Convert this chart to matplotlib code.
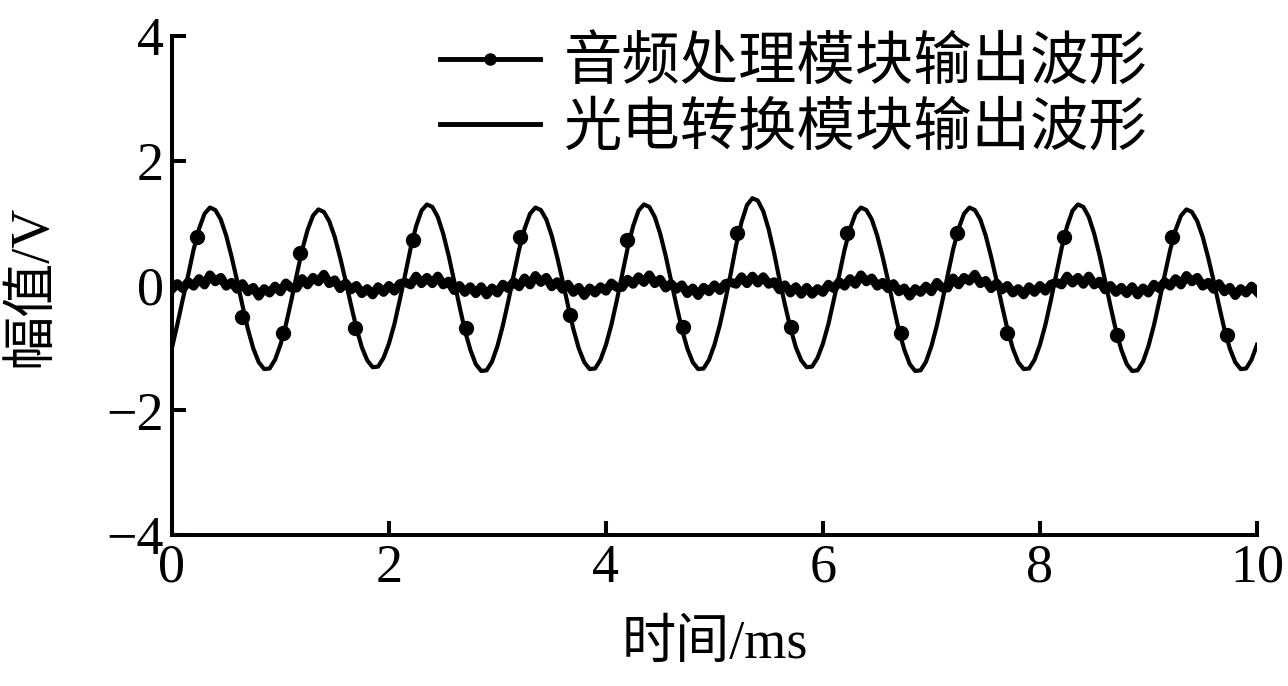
import numpy as np
import matplotlib
from matplotlib import pyplot as plt
from matplotlib.lines import Line2D

matplotlib.rcParams['font.family'] = ['Liberation Serif', 'Noto Sans CJK SC']
matplotlib.rcParams['axes.unicode_minus'] = True

# 采样时间 ms，步长 0.05 ms
t = np.linspace(0, 10, 201)

# 音频处理模块输出波形 (V)
audio_v = [-1.00, -0.62, -0.22,
           0.17, 0.58, 0.91, 1.15, 1.25, 1.21, 1.06, 0.80, 0.46, 0.08,
           -0.32, -0.70, -1.01, -1.23, -1.34, -1.33, -1.19, -0.95, -0.63, -0.24,
           0.17, 0.57, 0.89, 1.12, 1.22, 1.18, 1.03, 0.78, 0.45, 0.08,
           -0.31, -0.68, -0.99, -1.20, -1.31, -1.30, -1.16, -0.93, -0.62, -0.23,
           0.18, 0.60, 0.95, 1.20, 1.30, 1.26, 1.10, 0.83, 0.48, 0.08,
           -0.33, -0.72, -1.03, -1.26, -1.37, -1.36, -1.22, -0.97, -0.64, -0.25,
           0.17, 0.58, 0.91, 1.15, 1.25, 1.21, 1.06, 0.80, 0.46, 0.08,
           -0.32, -0.70, -1.01, -1.23, -1.34, -1.33, -1.19, -0.95, -0.63, -0.24,
           0.18, 0.60, 0.95, 1.20, 1.30, 1.26, 1.10, 0.83, 0.48, 0.08,
           -0.32, -0.70, -1.01, -1.23, -1.34, -1.33, -1.19, -0.95, -0.63, -0.24,
           0.19, 0.65, 1.02, 1.29, 1.40, 1.36, 1.19, 0.90, 0.52, 0.09,
           -0.31, -0.68, -0.99, -1.20, -1.31, -1.30, -1.16, -0.93, -0.62, -0.23,
           0.17, 0.58, 0.91, 1.15, 1.25, 1.21, 1.06, 0.80, 0.46, 0.08,
           -0.33, -0.72, -1.03, -1.26, -1.37, -1.36, -1.22, -0.97, -0.64, -0.25,
           0.17, 0.58, 0.91, 1.15, 1.25, 1.21, 1.06, 0.80, 0.46, 0.08,
           -0.32, -0.70, -1.01, -1.23, -1.34, -1.33, -1.19, -0.95, -0.63, -0.24,
           0.18, 0.60, 0.95, 1.20, 1.30, 1.26, 1.10, 0.83, 0.48, 0.08,
           -0.33, -0.72, -1.03, -1.26, -1.37, -1.36, -1.22, -0.97, -0.64, -0.25,
           0.17, 0.57, 0.89, 1.12, 1.22, 1.18, 1.03, 0.78, 0.45, 0.08,
           -0.32, -0.70, -1.01, -1.23, -1.34, -1.33, -1.19, -0.95]

# 光电转换模块输出波形 (V)，带噪声
photo_v = [-0.06, 0.03, -0.05,
           0.06, -0.01, 0.11, 0.01, 0.17, 0.06, 0.13, -0.01, 0.05, -0.06,
           0.03, -0.10, -0.03, -0.17, -0.05, -0.12, -0.01, -0.10, 0.04, -0.04,
           -0.04, 0.11, 0.01, 0.13, 0.06, 0.18, 0.03, 0.09, -0.05, 0.04,
           -0.07, 0.00, -0.13, -0.05, -0.15, -0.02, -0.11, 0.00, -0.09, 0.03,
           0.05, 0.01, 0.15, 0.03, 0.13, 0.03, 0.15, 0.01, 0.07, -0.08,
           0.00, -0.11, -0.02, -0.13, -0.02, -0.15, -0.04, -0.12, 0.02, -0.05,
           0.06, -0.02, 0.12, 0.01, 0.16, 0.05, 0.13, -0.02, 0.06, -0.06,
           0.02, -0.11, -0.03, -0.16, -0.04, -0.12, -0.02, -0.09, 0.04, -0.03,
           -0.03, 0.10, 0.02, 0.14, 0.05, 0.17, 0.03, 0.10, -0.04, 0.03,
           -0.06, 0.01, -0.13, -0.04, -0.16, -0.03, -0.10, 0.01, -0.08, 0.03,
           0.05, 0.02, 0.14, 0.03, 0.15, 0.04, 0.14, 0.02, 0.06, -0.07,
           0.01, -0.12, -0.02, -0.14, -0.03, -0.14, -0.05, -0.11, 0.02, -0.05,
           0.06, -0.01, 0.11, 0.02, 0.17, 0.06, 0.12, -0.01, 0.05, -0.05,
           0.03, -0.10, -0.04, -0.17, -0.05, -0.11, -0.01, -0.10, 0.05, -0.04,
           -0.04, 0.12, 0.01, 0.13, 0.07, 0.18, 0.03, 0.08, -0.05, 0.04,
           -0.07, 0.00, -0.12, -0.05, -0.15, -0.02, -0.11, 0.00, -0.09, 0.02,
           0.05, 0.01, 0.15, 0.04, 0.13, 0.02, 0.15, 0.01, 0.07, -0.07,
           0.00, -0.11, -0.03, -0.13, -0.02, -0.15, -0.04, -0.12, 0.02, -0.05,
           0.06, -0.01, 0.11, 0.01, 0.16, 0.06, 0.13, -0.01, 0.05, -0.06,
           0.03, -0.10, -0.03, -0.16, -0.05, -0.12, -0.01, -0.10]

# 音频波形上的标记点
marker_t = [0.23, 0.65, 1.02, 1.18, 1.69, 2.22, 2.71, 3.21, 3.67, 4.19, 4.71,
            5.21, 5.71, 6.22, 6.72, 7.24, 7.70, 8.22, 8.71, 9.22, 9.72]
marker_v = [0.78, -0.50, -0.76, 0.52, -0.68, 0.73, -0.68, 0.78, -0.47, 0.73, -0.67,
            0.84, -0.67, 0.84, -0.76, 0.84, -0.76, 0.78, -0.79, 0.78, -0.79]

x_ticks = [0, 2, 4, 6, 8, 10]
y_ticks = [-4, -2, 0, 2, 4]
labels = ['音频处理模块输出波形', '光电转换模块输出波形']

fig = plt.figure(figsize=(12.88, 6.86), dpi=100)
ax = fig.add_axes([0.1335, 0.2201, 0.8424, 0.7274])

ax.plot(t, audio_v, color='k', lw=3.0)
ax.plot(marker_t, marker_v, 'o', color='k', ms=10)
ax.plot(t, photo_v, color='k', lw=6.5)

ax.set_xlim(0, 10)
ax.set_ylim(-4, 4)
ax.set_xticks(x_ticks)
ax.set_yticks(y_ticks)
ax.spines['top'].set_visible(False)
ax.spines['right'].set_visible(False)
for s in ['left', 'bottom']:
    ax.spines[s].set_linewidth(2.9)
ax.tick_params(direction='in', length=10, width=2.9, labelsize=39, pad=6)

ax.set_xlabel('时间/ms', fontsize=39)
ax.set_ylabel('幅值/V', fontsize=39)
ax.xaxis.set_label_coords(0.5, -0.17)
ax.yaxis.set_label_coords(-0.106, 0.5)

handles = [Line2D([], [], color='k', lw=3.5, marker='o', ms=8),
           Line2D([], [], color='k', lw=3.5)]
ax.legend(handles, labels, loc='upper left', bbox_to_anchor=(0.247, 1.0),
          frameon=False, fontsize=42, handlelength=1.72, handletextpad=0.41,
          labelspacing=0.18, borderpad=0, borderaxespad=0)

plt.savefig('out.png', dpi=100)
